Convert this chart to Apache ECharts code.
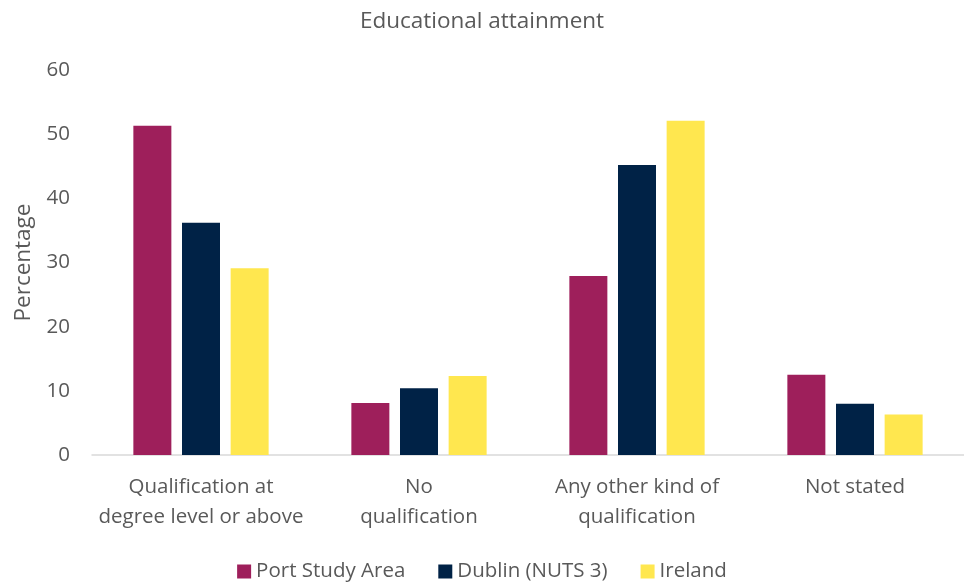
<!DOCTYPE html>
<html>
<head>
<meta charset="utf-8">
<script src="https://cdn.jsdelivr.net/npm/echarts@6/dist/echarts.min.js"></script>
<style>
  html, body { margin: 0; padding: 0; background: #fff; }
  #chart { width: 964px; height: 582px; }
</style>
</head>
<body>
<div id="chart"></div>
<script>
// Educational attainment by area (percent of population)
const categories = [
  'Qualification at\ndegree level or above',
  'No\nqualification',
  'Any other kind of\nqualification',
  'Not stated'
];
const seriesNames = ['Port Study Area', 'Dublin (NUTS 3)', 'Ireland'];
const portStudyArea = [51.3, 8.1, 27.9, 12.5];
const dublinNuts3 = [36.2, 10.4, 45.2, 8.0];
const ireland = [29.1, 12.3, 52.1, 6.3];
const yTicks = { min: 0, max: 60, interval: 10 };

const colors = ['#9E1F5B', '#002246', '#FFE74F'];
const textColor = '#595959';
const font = '"Open Sans", Lato, sans-serif';

const chart = echarts.init(document.getElementById('chart'));
const values = [portStudyArea, dublinNuts3, ireland];

chart.setOption({
  animation: false,
  textStyle: { fontFamily: font, color: textColor },
  title: {
    text: 'Educational attainment',
    left: 'center',
    top: 5,
    textStyle: { fontFamily: font, fontSize: 22.5, fontWeight: 'normal', color: textColor }
  },
  legend: {
    data: seriesNames,
    top: 556,
    left: 'center',
    itemWidth: 14,
    itemHeight: 14,
    itemGap: 33,
    icon: 'rect',
    textStyle: { fontFamily: font, fontSize: 20.5, color: textColor }
  },
  grid: { left: 92, top: 70, width: 875, height: 385 },
  xAxis: {
    type: 'category',
    data: categories,
    axisLine: { lineStyle: { color: '#D9D9D9', width: 1.5 } },
    axisTick: { show: false },
    axisLabel: { interval: 0, fontFamily: font, fontSize: 20.5, color: textColor, lineHeight: 30, margin: 17 }
  },
  yAxis: {
    type: 'value',
    min: yTicks.min,
    max: yTicks.max,
    interval: yTicks.interval,
    name: 'Percentage',
    nameLocation: 'middle',
    nameGap: 57,
    nameTextStyle: { fontFamily: font, fontSize: 22.5, color: textColor },
    axisLine: { show: false },
    axisTick: { show: false },
    splitLine: { show: false },
    axisLabel: { fontFamily: font, fontSize: 20.5, color: textColor, margin: 22 }
  },
  series: seriesNames.map((name, i) => ({
    name,
    type: 'bar',
    data: values[i],
    barWidth: 38,
    barGap: '28%',
    itemStyle: { color: colors[i] }
  }))
});
</script>
</body>
</html>
